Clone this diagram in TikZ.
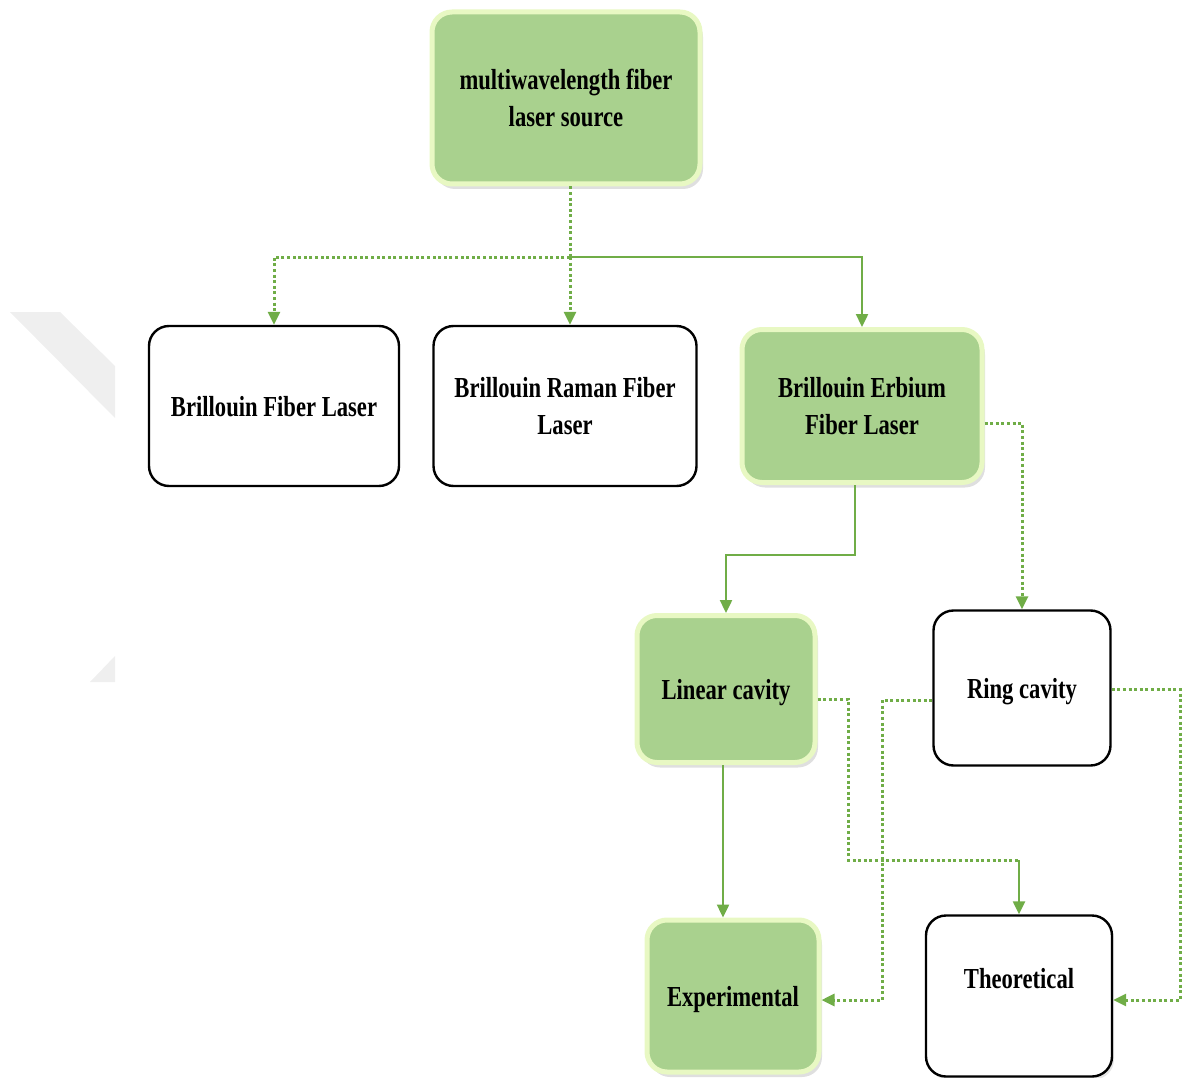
\documentclass[tikz,border=0pt]{standalone}
\usepackage{fontspec}
\setmainfont{Liberation Serif}[FakeStretch=0.78]
\usetikzlibrary{
  arrows.meta,
  positioning,
  shadows
}
\definecolor{boxgreen}{RGB}{169,209,142}
\definecolor{rimgreen}{RGB}{232,248,195}
\definecolor{linkgreen}{RGB}{112,173,71}
\definecolor{markgray}{RGB}{239,239,239}

\tikzset{
    greenbox/.style={
        rectangle, rounded corners=20pt, fill=boxgreen, draw=rimgreen,
        line width=5pt, align=center,
        drop shadow={shadow xshift=3pt, shadow yshift=-5pt, opacity=0.25}
    },
    whitebox/.style={
        rectangle, rounded corners=20pt, fill=white, draw=black,
        line width=2.4pt, align=center
    },
    oneline/.style={text height=20pt, text depth=0pt},
    solidlink/.style={draw=linkgreen, line width=2.4pt},
    dottedlink/.style={draw=linkgreen, line width=3pt, dash pattern=on 3pt off 2.6pt}
}

\begin{document}
\begin{tikzpicture}[x=1pt, y=-1pt,
    >={Triangle[length=13pt, width=12pt]},
    font=\fontsize{29}{37}\selectfont\bfseries]

\useasboundingbox (0,0) rectangle (1183,1078);

% Faint watermark on the left
\fill[markgray] (10,312) -- (60,312) -- (115,366) -- (115,418) -- cycle;
\fill[markgray] (90,682) -- (115,656) -- (115,682) -- cycle;

% Create the boxes
\node[greenbox, minimum width=268pt, minimum height=172pt] (src) at (566,98)
    {multiwavelength fiber\\laser source};
\node[whitebox, oneline, minimum width=250pt, minimum height=160pt] (bfl) at (274,406)
    {Brillouin Fiber Laser};
\node[whitebox, minimum width=263pt, minimum height=160pt] (brfl) at (565,406)
    {Brillouin Raman Fiber\\Laser};
\node[greenbox, minimum width=240pt, minimum height=153pt] (befl) at (862,406)
    {Brillouin Erbium\\Fiber Laser};
\node[greenbox, oneline, minimum width=178pt, minimum height=147pt] (lin) at (726,689)
    {Linear cavity};
\node[whitebox, oneline, minimum width=177pt, minimum height=155pt] (ring) at (1022,688)
    {Ring cavity};
\node[greenbox, oneline, minimum width=172pt, minimum height=152pt] (exp) at (733,996)
    {Experimental};
\node[whitebox, minimum width=186pt, minimum height=161pt, text depth=36pt,
      drop shadow={shadow xshift=2pt, shadow yshift=-3pt, opacity=0.2}] (theo) at (1019,996)
    {Theoretical};

% Branches from the source
\coordinate (split) at (570,257);
\draw[dottedlink] (src.south -| split) -- (split);
\draw[dottedlink, ->] (split) -- (bfl.north |- split) -- (bfl.north);
\draw[dottedlink, ->] (split) -- (split |- brfl.north);
\draw[solidlink, ->] (split) -- (befl.north |- split) -- (befl.north);

% Branches from the erbium laser
\coordinate (bend1) at (855,555);
\draw[solidlink, ->] (bend1 |- befl.south) -- (bend1) -- (bend1 -| lin.north) -- (lin.north);
\coordinate (bend2) at (ring.north |- 0,423);
\draw[dottedlink, ->] (befl.east |- bend2) -- (bend2) -- (ring.north);

% Links from the cavities
\draw[solidlink, ->] (723,0 |- lin.south) -- (723,0 |- exp.north);

\coordinate (bend3) at (848,699);
\coordinate (bend4) at (848,860);
\draw[dottedlink] (lin.east |- bend3) -- (bend3) -- (bend4) -- (bend4 -| theo.north);
\draw[solidlink, ->] (bend4 -| theo.north) -- (theo.north);

\coordinate (bend5) at (882,700);
\draw[dottedlink, ->] (ring.west |- bend5) -- (bend5) -- (bend5 |- 0,1000) -- (exp.east |- 0,1000);

\coordinate (bend6) at (1180,689);
\draw[dottedlink, ->] (ring.east |- bend6) -- (bend6) -- (bend6 |- 0,1000) -- (theo.east |- 0,1000);

\end{tikzpicture}
\end{document}
